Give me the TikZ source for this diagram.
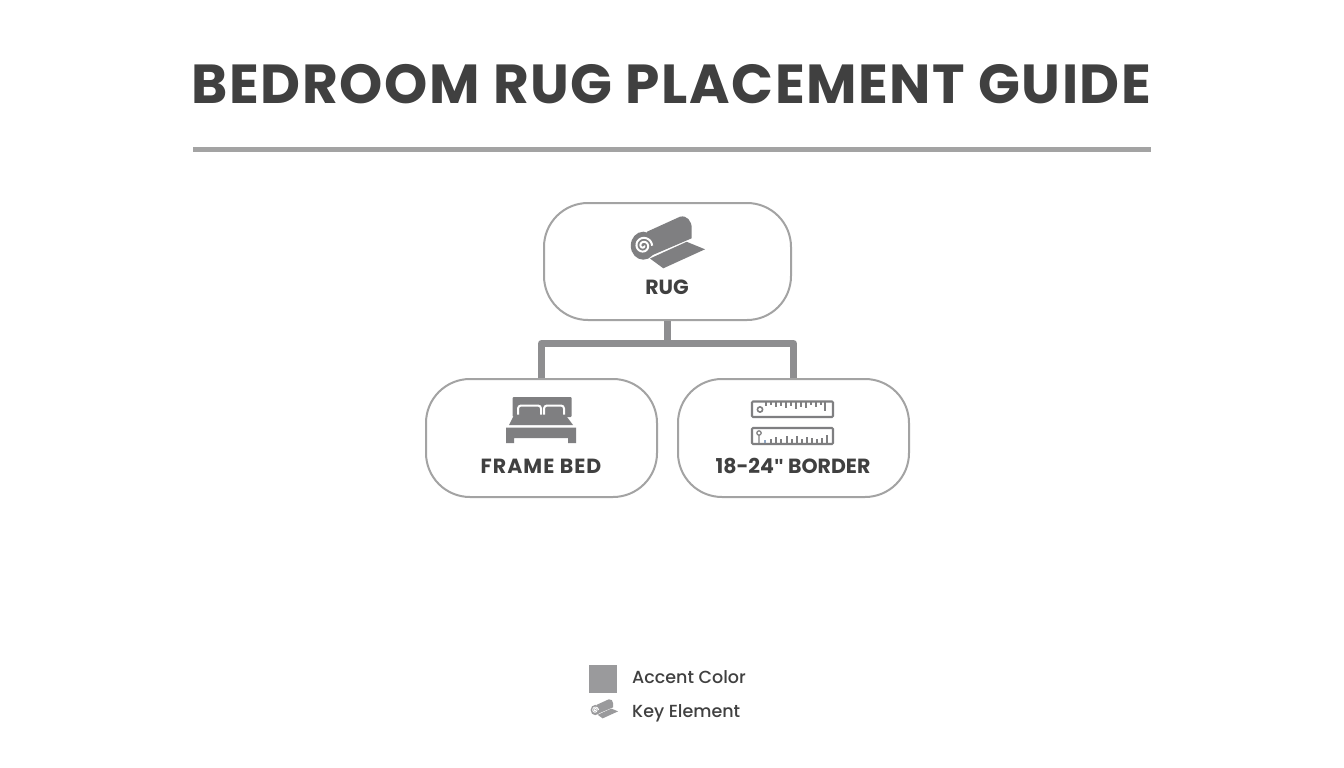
\documentclass[tikz,border=0pt]{standalone}
\usepackage{fontspec}
\setmainfont{Poppins}
\newfontfamily\mediumfont{Poppins Medium}
\newfontfamily\quotefont{Liberation Sans}
\definecolor{inkgray}{HTML}{404040}
\definecolor{accentgray}{HTML}{9A9A9C}
\definecolor{icongray}{HTML}{7F7F81}
\definecolor{boxgray}{HTML}{A3A3A3}
\definecolor{linkgray}{HTML}{8E8E90}
\definecolor{tickblue}{HTML}{8FA6C4}
\tikzset{
  cardbox/.style={draw=boxgray,line width=2pt,rounded corners=44pt,fill=white,inner sep=0pt},
  cardlabel/.style={text=inkgray,font=\bfseries\fontsize{20.5}{24}\selectfont,inner sep=0pt,anchor=base},
  legendlabel/.style={text=inkgray,font=\mediumfont\fontsize{17.5}{22}\selectfont,anchor=base west,inner sep=0pt},
  linkline/.style={draw=linkgray,line width=7pt,line join=round},
  spiralline/.style={line width=2pt},
  rugfill/.style={fill=icongray},
  rugicon/.pic={
    \path[rugfill] (-20,-15.3) -- (13,-30.3) .. controls (20,-32) and (24.7,-26) .. (24.7,-18.7)
      -- (24.7,-8.7) -- (-18,9.6) -- cycle;
    \path[rugfill] (-17,11.5) -- (19.7,-5.2) -- (38,2.3) -- (-3.7,21.3) -- cycle;
    \path[rugfill] (-23.7,-1.3) ellipse (12.5 and 14);
    \draw[white,spiralline] plot[domain=0:720,samples=70,smooth]
      ({-23.7+(.8+\x/720*8)*cos(\x)},{-1.3+(.8+\x/720*8)*sin(\x)});
  }
}
\begin{document}
\begin{tikzpicture}[x=1pt,y=-1pt]
  \useasboundingbox (0,0) rectangle (1344,768);
  \fill[white] (0,0) rectangle (1344,768);

  \node[text=inkgray,font=\bfseries\fontsize{55}{60}\selectfont\addfontfeatures{LetterSpace=2.8},inner sep=0pt,anchor=base] (title) at (671.5,103) {BEDROOM RUG PLACEMENT GUIDE};
  \coordinate (ruleleft) at (193,149.5);
  \coordinate (ruleright) at (1151,149.5);
  \draw[boxgray,line width=5pt] (ruleleft) -- (ruleright);

  \node[cardbox,minimum width=247pt,minimum height=117pt] (rug) at (667.5,261.5) {};
  \node[cardbox,minimum width=231pt,minimum height=118pt] (frame) at (541.5,438) {};
  \node[cardbox,minimum width=231pt,minimum height=118pt] (border) at (793.5,438) {};

  \coordinate (hub) at (rug.south |- 0,343.5);
  \draw[linkline] (rug.south) -- (hub);
  \draw[linkline] (frame.north) |- (hub) -| (border.north);

  \node[cardlabel] (rugtext) at (667,294) {RUG};
  \node[cardlabel] (frametext) at (541,473) {\addfontfeatures{LetterSpace=5}FRAME BED};
  \node[cardlabel] (bordertext) at (793,473) {18-24{\quotefont\char"22}\ BORDER};

  \pic at (667,247) {rugicon};

  % bed
  \fill[icongray,rounded corners=1pt] (512.7,397) rectangle (571.7,417);
  \foreach \i/\j in {518/541,544/564}{
    \draw[white,line width=2pt,rounded corners=3pt] (\i,414.5) -- (\i,405.5) -- (\j,405.5) -- (\j,414.5);
  }
  \fill[icongray] (509,425) -- (513,417) -- (567,417) -- (573,425) -- cycle;
  \fill[icongray] (506,427.5) -- (576,427.5) -- (576,443) -- (568,443) -- (568,438) -- (514,438) -- (514,443) -- (506,443) -- cycle;

  % rulers
  \draw[icongray,line width=2.1pt,rounded corners=1pt] (752,401.5) rectangle (833,417);
  \draw[icongray,line width=2.1pt,rounded corners=1pt] (752,428) rectangle (833,444);
  \draw[icongray,line width=1.6pt] (760,409.5) circle (2.6);
  \draw[icongray,line width=1.2pt] (759,433) circle (2.2) (759,435.2) -- (759,443);
  \foreach \i/\j in {766/406,771/405,776/407,781/406,786/408,791/406,796/409,801/407,806/408,811/405,816/407,821/405,825/411}{
    \draw[icongray,line width=1.3pt] (\i,402) -- (\i,\j);
  }
  \foreach \i/\j in {771/439,776/437,781/439,787/436,792/439,797/436,802/439,807/437,812/438,817/439,822/438,827/435}{
    \draw[icongray,line width=1.3pt] (\i,443) -- (\i,\j);
  }
  \draw[tickblue,line width=1.6pt] (765,443) -- (765,440);

  % legend
  \node[fill=accentgray,minimum width=28pt,minimum height=28pt,inner sep=0pt] (swatch) at (603,678.5) {};
  \node[legendlabel] (accenttext) at (632,683.5) {Accent Color};
  \pic[scale=.37,spiralline/.style={line width=.8pt},rugfill/.style={fill=accentgray}] at (604,710.5) {rugicon};
  \node[legendlabel] (keytext) at (632,717.5) {Key Element};
\end{tikzpicture}
\end{document}
